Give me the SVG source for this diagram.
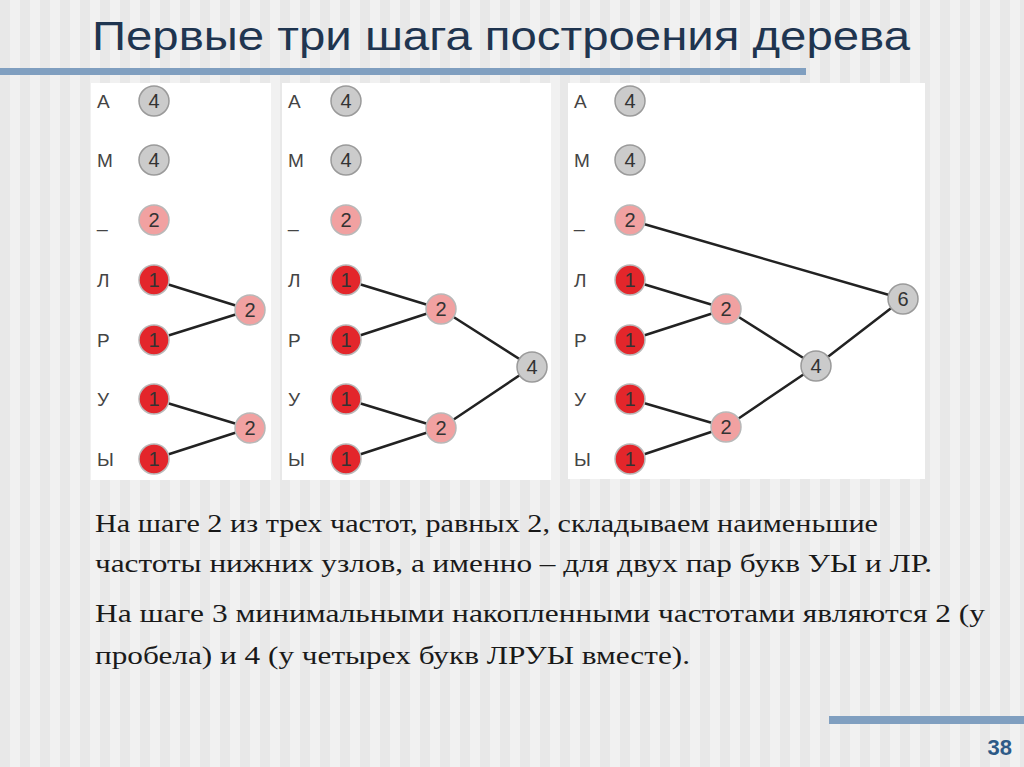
<svg xmlns="http://www.w3.org/2000/svg" width="1024" height="767" viewBox="0 0 1024 767">
<defs>
<pattern id="st" width="20" height="20" patternUnits="userSpaceOnUse"><rect width="20" height="20" fill="#f1f1f1"/><rect width="10" height="20" fill="#e8e8e8"/></pattern>
<style>
.l{font-family:"Liberation Sans",Arial,sans-serif;font-size:19px;fill:#444}
.n{font-family:"Liberation Sans",Arial,sans-serif;font-size:20px;fill:#333;text-anchor:middle}
.g{fill:#cbcbcb;stroke:#9a9a9a;stroke-width:1.5}
.r{fill:#e3262b;stroke:#b8b8b8;stroke-width:1.5}
.p{fill:#f1a1a1;stroke:#b8b8b8;stroke-width:1.5}
.e{stroke:#222;stroke-width:2.5;fill:none}
.t{font-family:"Liberation Serif","Times New Roman",serif;font-size:26px;fill:#1a1a1a}
</style>
</defs>
<rect width="1024" height="767" fill="url(#st)"/>
<text x="92" y="50" font-family="Liberation Sans,Arial,sans-serif" font-size="40" fill="#1f3550" textLength="818" lengthAdjust="spacingAndGlyphs">Первые три шага построения дерева</text>
<rect x="0" y="68" width="806" height="7" fill="#809fc0"/>
<rect x="829" y="716" width="195" height="8" fill="#809fc0"/>
<text x="1012" y="755" text-anchor="end" font-family="Liberation Sans,Arial,sans-serif" font-weight="bold" font-size="22" fill="#2e5a87">38</text>
<rect x="91" y="83" width="180" height="397" fill="#fff"/>
<rect x="282" y="83" width="269" height="397" fill="#fff"/>
<rect x="568" y="83" width="357" height="396" fill="#fff"/>
<g id="edges">
<path class="e" d="M154 280L250 310M154 340L250 310M154 399L250 428M154 459L250 428"/>
<path class="e" d="M346 280L441 309M346 340L441 309M346 399L441 428M346 459L441 428M441 309L532 367M441 428L532 367"/>
<path class="e" d="M630 280L726 309M630 340L726 309M630 399L726 427M630 459L726 427M726 309L816 366M726 427L816 366M816 366L903 299M630 220L903 299"/>
</g>
<g id="labels">
<g class="l"><text x="97" y="108">А</text><text x="97" y="167">М</text><text x="97" y="227">_</text><text x="97" y="287">Л</text><text x="97" y="347">Р</text><text x="97" y="406">У</text><text x="97" y="466">Ы</text></g>
<g class="l"><text x="288" y="108">А</text><text x="288" y="167">М</text><text x="288" y="227">_</text><text x="288" y="287">Л</text><text x="288" y="347">Р</text><text x="288" y="406">У</text><text x="288" y="466">Ы</text></g>
<g class="l"><text x="574" y="108">А</text><text x="574" y="167">М</text><text x="574" y="227">_</text><text x="574" y="287">Л</text><text x="574" y="347">Р</text><text x="574" y="406">У</text><text x="574" y="466">Ы</text></g>
</g>
<g id="p1">
<circle class="g" cx="154" cy="101" r="15"/><text class="n" x="154" y="108">4</text>
<circle class="g" cx="154" cy="160" r="15"/><text class="n" x="154" y="167">4</text>
<circle class="p" cx="154" cy="220" r="15"/><text class="n" x="154" y="227">2</text>
<circle class="r" cx="154" cy="280" r="15"/><text class="n" x="154" y="287">1</text>
<circle class="r" cx="154" cy="340" r="15"/><text class="n" x="154" y="347">1</text>
<circle class="r" cx="154" cy="399" r="15"/><text class="n" x="154" y="406">1</text>
<circle class="r" cx="154" cy="459" r="15"/><text class="n" x="154" y="466">1</text>
<circle class="p" cx="250" cy="310" r="15"/><text class="n" x="250" y="317">2</text>
<circle class="p" cx="250" cy="428" r="15"/><text class="n" x="250" y="435">2</text>
</g>
<g id="p2">
<circle class="g" cx="346" cy="101" r="15"/><text class="n" x="346" y="108">4</text>
<circle class="g" cx="346" cy="160" r="15"/><text class="n" x="346" y="167">4</text>
<circle class="p" cx="346" cy="220" r="15"/><text class="n" x="346" y="227">2</text>
<circle class="r" cx="346" cy="280" r="15"/><text class="n" x="346" y="287">1</text>
<circle class="r" cx="346" cy="340" r="15"/><text class="n" x="346" y="347">1</text>
<circle class="r" cx="346" cy="399" r="15"/><text class="n" x="346" y="406">1</text>
<circle class="r" cx="346" cy="459" r="15"/><text class="n" x="346" y="466">1</text>
<circle class="p" cx="441" cy="309" r="15"/><text class="n" x="441" y="316">2</text>
<circle class="p" cx="441" cy="428" r="15"/><text class="n" x="441" y="435">2</text>
<circle class="g" cx="532" cy="367" r="15"/><text class="n" x="532" y="374">4</text>
</g>
<g id="p3">
<circle class="g" cx="630" cy="101" r="15"/><text class="n" x="630" y="108">4</text>
<circle class="g" cx="630" cy="160" r="15"/><text class="n" x="630" y="167">4</text>
<circle class="p" cx="630" cy="220" r="15"/><text class="n" x="630" y="227">2</text>
<circle class="r" cx="630" cy="280" r="15"/><text class="n" x="630" y="287">1</text>
<circle class="r" cx="630" cy="340" r="15"/><text class="n" x="630" y="347">1</text>
<circle class="r" cx="630" cy="399" r="15"/><text class="n" x="630" y="406">1</text>
<circle class="r" cx="630" cy="459" r="15"/><text class="n" x="630" y="466">1</text>
<circle class="p" cx="726" cy="309" r="15"/><text class="n" x="726" y="316">2</text>
<circle class="p" cx="726" cy="427" r="15"/><text class="n" x="726" y="434">2</text>
<circle class="g" cx="816" cy="366" r="15"/><text class="n" x="816" y="373">4</text>
<circle class="g" cx="903" cy="299" r="15"/><text class="n" x="903" y="306">6</text>
</g>
<text class="t" x="95" y="532" textLength="783" lengthAdjust="spacingAndGlyphs">На шаге 2 из трех частот, равных 2, складываем наименьшие</text>
<text class="t" x="95" y="572" textLength="837" lengthAdjust="spacingAndGlyphs">частоты нижних узлов, а именно – для двух пар букв УЫ и ЛР.</text>
<text class="t" x="95" y="622" textLength="890" lengthAdjust="spacingAndGlyphs">На шаге 3 минимальными накопленными частотами являются 2 (у</text>
<text class="t" x="95" y="664" textLength="595" lengthAdjust="spacingAndGlyphs">пробела) и 4 (у четырех букв ЛРУЫ вместе).</text>
</svg>
